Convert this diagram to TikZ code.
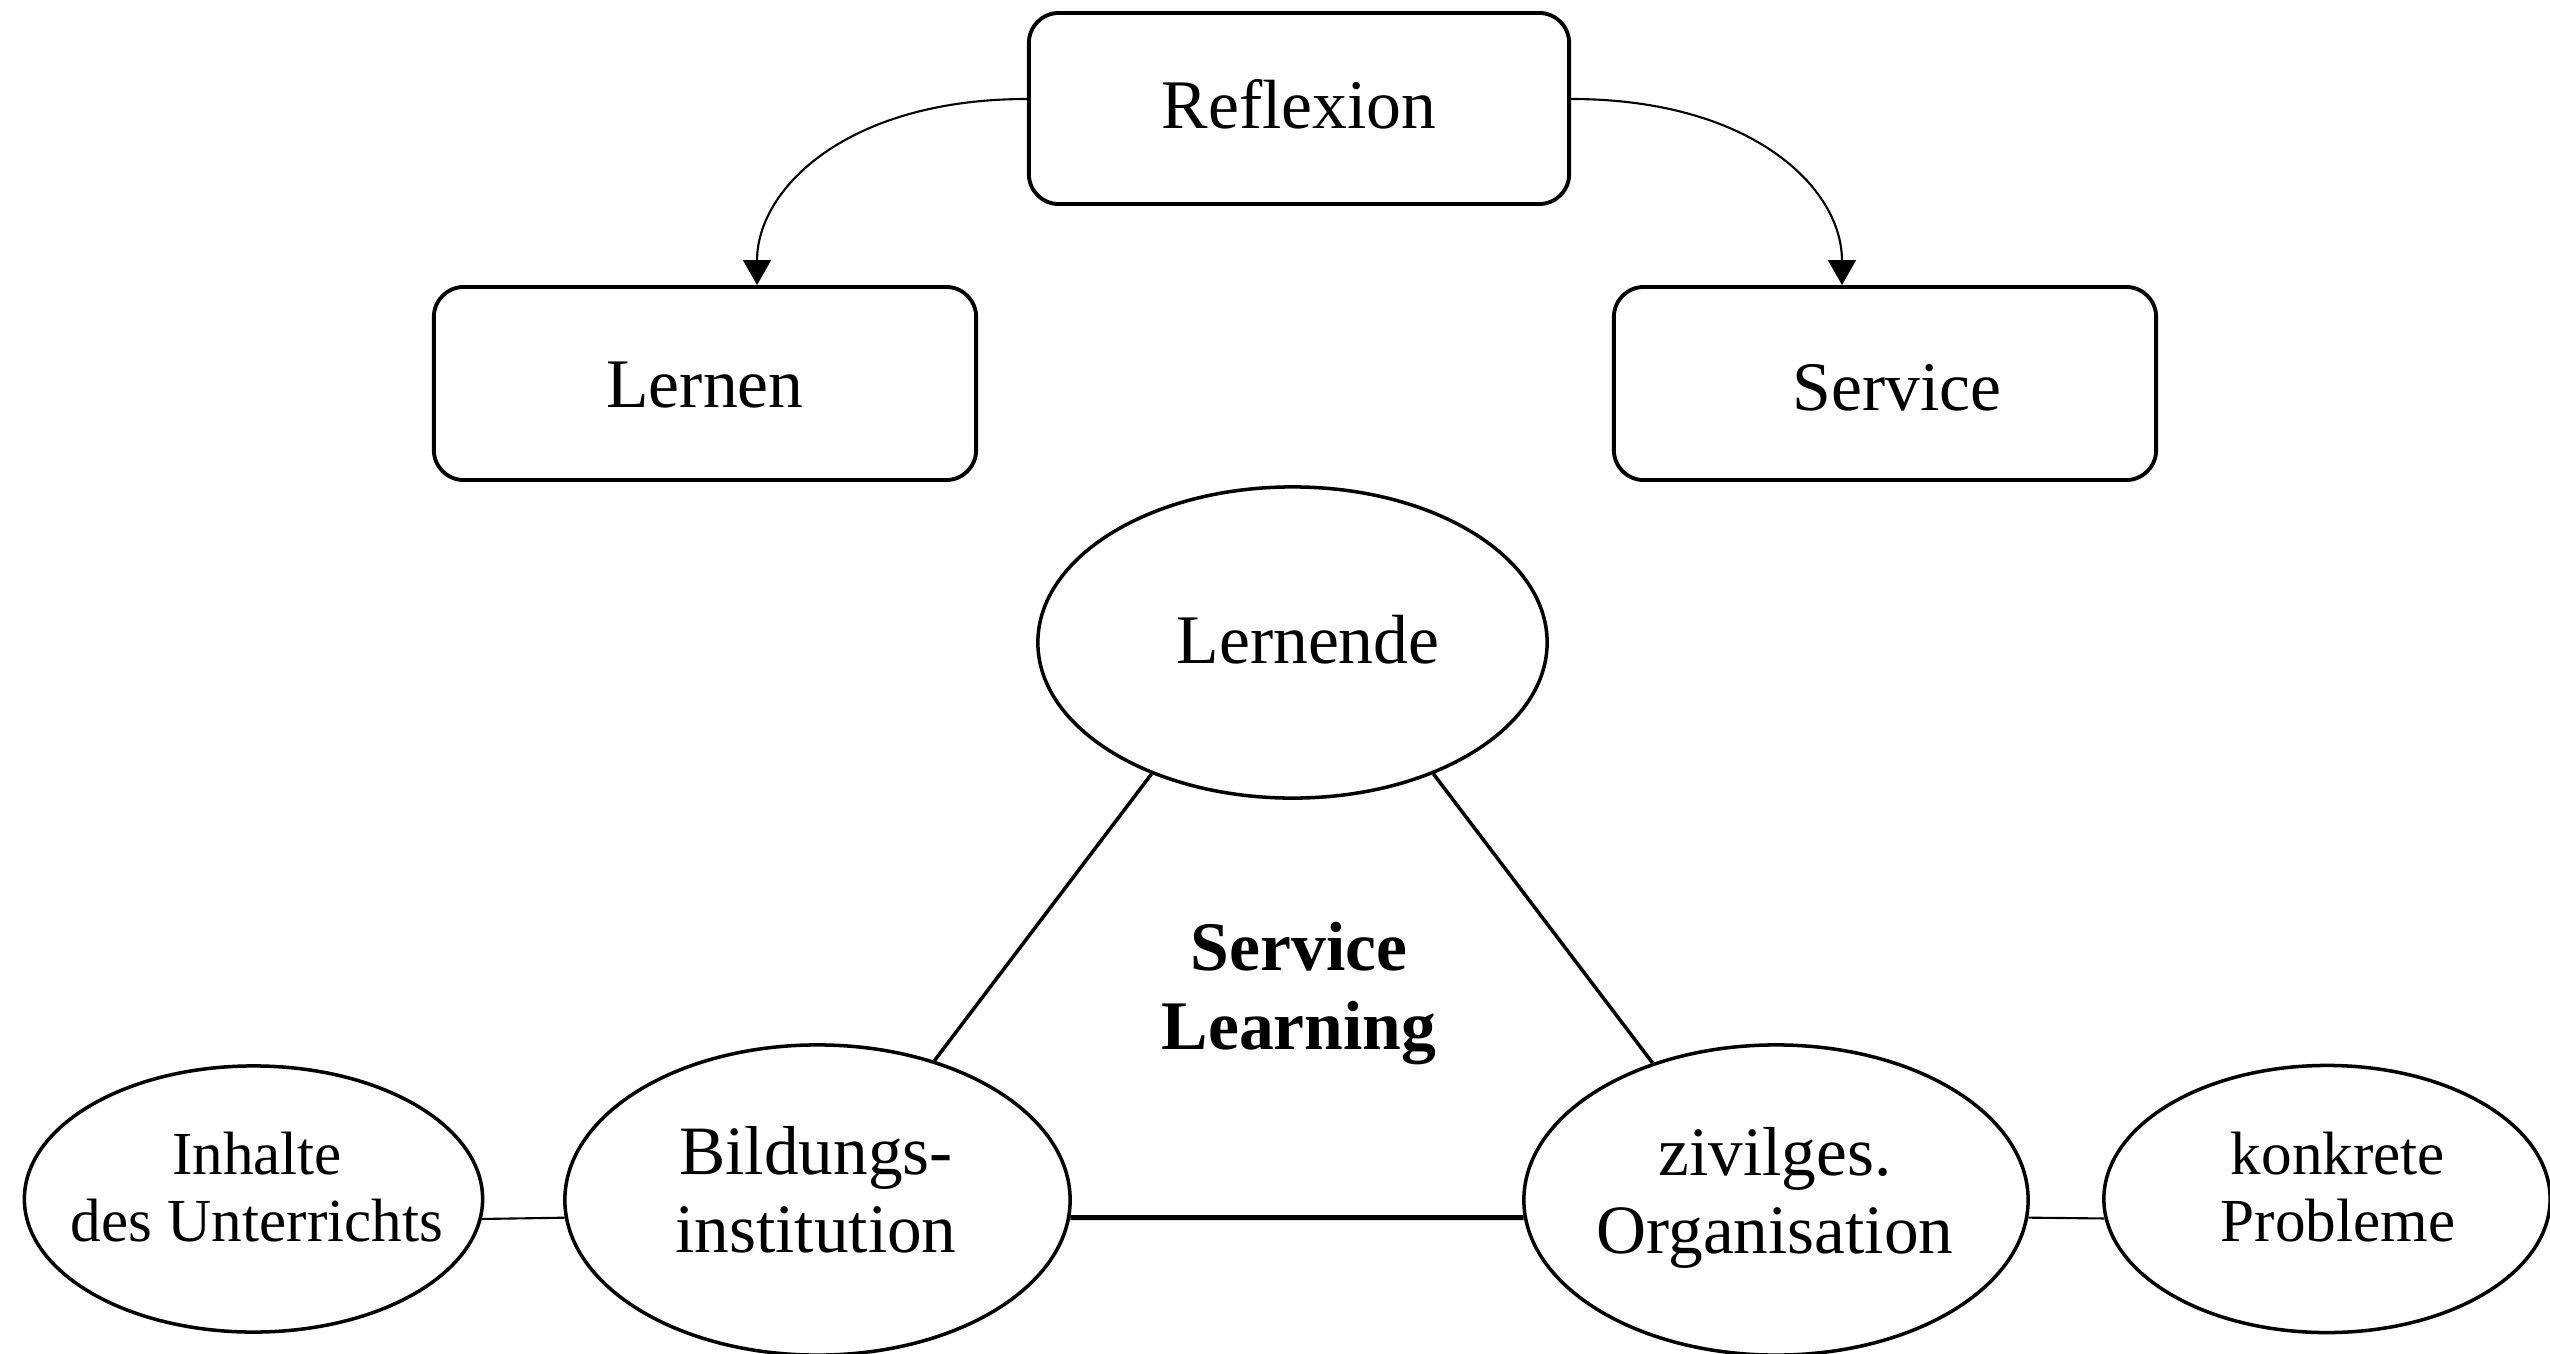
\documentclass[tikz,border=0pt]{standalone}
\usepackage{fontspec}
\setmainfont{Liberation Serif}
\usetikzlibrary{arrows.meta,shapes.geometric}
\begin{document}
\begin{tikzpicture}[x=0.01cm,y=-0.01cm,
  box/.style={draw, line width=1.1pt, rounded corners=0.3cm, inner sep=0pt,
    text depth=0pt, font=\fontsize{19.8}{23}\selectfont},
  oval/.style={draw, ellipse, line width=1pt, inner sep=0pt},
  txt/.style={align=center, inner sep=0pt},
  arr/.style={line width=0.6pt, -{Triangle[width=0.28cm,length=0.25cm]}},
  tri/.style={line width=1pt},
  base/.style={line width=1.4pt},
  thinline/.style={line width=0.6pt}]
\useasboundingbox (0,0) rectangle (2550,1354);

% boxes
\node[box, minimum width=5.40cm, minimum height=1.91cm, text height=0.39cm] (refl) at (1299,108.5) {Reflexion};
\node[box, minimum width=5.42cm, minimum height=1.93cm, text height=0.47cm] (lern) at (705,383.5) {Lernen};
\node[box, minimum width=5.42cm, minimum height=1.93cm, text height=0.53cm] (serv) at (1885,383.5) {\kern0.24cm Service};

% ellipses
\node[oval, minimum width=5.09cm, minimum height=3.11cm, font=\fontsize{19.8}{23}\selectfont,
  text height=0.41cm, text depth=0pt] (lernd) at (1292.5,642.5) {\kern0.31cm Lernende};
\node[oval, minimum width=5.05cm, minimum height=3.10cm] (bild) at (817.5,1200) {};
\node[oval, minimum width=5.04cm, minimum height=3.10cm] (ziv) at (1776,1200) {};
\node[oval, minimum width=4.58cm, minimum height=2.66cm] (inh) at (253.5,1199) {};
\node[oval, minimum width=4.46cm, minimum height=2.67cm] (konk) at (2327,1199) {};

% texts
\node[txt, font=\fontsize{19.7}{22.2}\selectfont] (bildtxt) at (816,1190) {Bildungs-\\institution};
\node[txt, font=\fontsize{19.7}{22.2}\selectfont] (zivtxt) at (1775,1198) {zivilges.\\Organisation};
\node[txt, font=\fontsize{17.4}{19.06}\selectfont] (inhtxt) at (257,1187.5) {Inhalte\\des Unterrichts};
\node[txt, font=\fontsize{17.4}{19.06}\selectfont] (konktxt) at (2338,1187.5) {konkrete\\Probleme};
\node[txt, font=\bfseries\fontsize{19.8}{22.5}\selectfont] (sl) at (1299,993.7) {Service\\Learning};

% arrows
\draw[arr] ([yshift=0.095cm]refl.west) .. controls +(-179,0) and +(0,-97) .. ([xshift=0.52cm]lern.north);
\draw[arr] ([yshift=0.095cm]refl.east) .. controls +(181,0) and +(0,-97) .. ([xshift=-0.43cm]serv.north);

% triangle
\draw[tri] (lernd.223) -- (bild.50);
\draw[tri] (lernd.317) -- (ziv.132);
\draw[base] (bild.-4) -- (ziv.184);

% side connectors
\draw[thinline] (inh.-5) -- (bild.184);
\draw[thinline] (ziv.-4) -- (konk.185);
\end{tikzpicture}
\end{document}
